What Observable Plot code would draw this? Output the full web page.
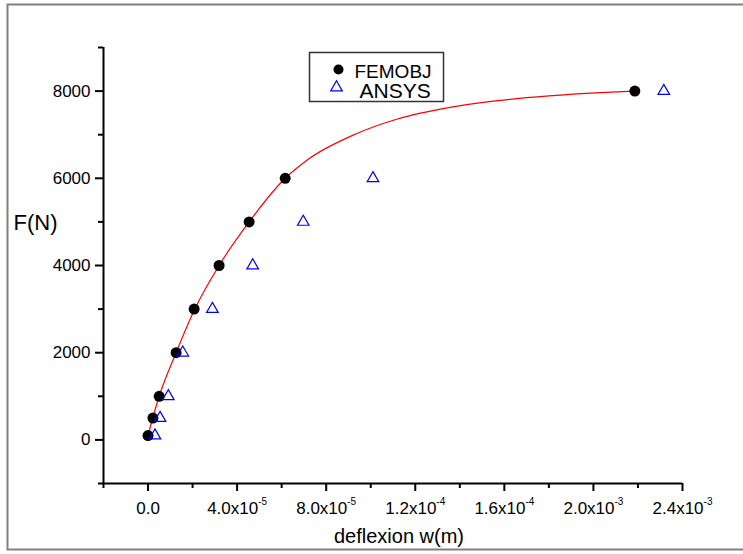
<!DOCTYPE html>
<html><head><meta charset="utf-8">
<script src="https://cdn.jsdelivr.net/npm/d3@7"></script>
<script src="https://cdn.jsdelivr.net/npm/@observablehq/plot@0.6"></script>
<style>body{margin:0;background:#fff}</style>
</head><body><div id="chart"></div>
<script>
const forces = [100, 500, 1000, 2000, 3000, 4000, 5000, 6000, 8000];
const femobjW = [0, 2.2e-6, 5.0e-6, 1.26e-5, 2.07e-5, 3.19e-5, 4.54e-5, 6.16e-5, 2.186e-4];
const ansysW = [3.1e-6, 5.4e-6, 9.1e-6, 1.56e-5, 2.89e-5, 4.70e-5, 6.97e-5, 1.01e-4, 2.316e-4];
const curveW = [0, 2.2e-6, 5.0e-6, 1.26e-5, 2.1e-5, 3.19e-5, 4.54e-5, 6.16e-5, 7.15e-5, 9.3e-5, 1.12e-4, 1.35e-4, 1.57e-4, 1.8e-4, 2.03e-4, 2.186e-4];
const curveF = [100, 520, 1000, 2000, 3000, 4000, 5000, 6000, 6420, 7010, 7360, 7620, 7780, 7890, 7965, 8000];
const xTicks = [0, 4e-5, 8e-5, 1.2e-4, 1.6e-4, 2.0e-4, 2.4e-4];
const xTickLabels = ["0.0", "4.0x10^-5", "8.0x10^-5", "1.2x10^-4", "1.6x10^-4", "2.0x10^-3", "2.4x10^-3"];
const xMinorTicks = [-2e-5, 2e-5, 6e-5, 1e-4, 1.4e-4, 1.8e-4, 2.2e-4];
const yTicks = [0, 2000, 4000, 6000, 8000];
const yMinorTicks = [-1000, 1000, 3000, 5000, 7000, 9000];
const seriesNames = ["FEMOBJ", "ANSYS"];
const xTitle = "deflexion w(m)";
const yTitle = "F(N)";

const femobj = forces.map((F, i) => ({w: femobjW[i], F}));
const ansys = forces.map((F, i) => ({w: ansysW[i], F}));
const curve = curveW.map((w, i) => ({w, F: curveF[i]}));

const plot = Plot.plot({
  width: 743, height: 554,
  marginLeft: 103, marginRight: 61, marginTop: 47, marginBottom: 71,
  style: {fontFamily: '"Liberation Sans", Arial, sans-serif', background: "white", color: "black"},
  x: {domain: [-2e-5, 2.4e-4], label: null},
  y: {domain: [-1000, 9000], label: null},
  marks: [
    Plot.frame({insetLeft: -96, insetTop: -43, insetBottom: -66, insetRight: -70, stroke: "#808080", strokeWidth: 2}),
    Plot.ruleY([-1000], {stroke: "black", strokeWidth: 2}),
    Plot.ruleX([-2e-5], {stroke: "black", strokeWidth: 2}),
    Plot.axisX({ticks: xMinorTicks, tickSize: 5, tickFormat: () => "", strokeWidth: 2, label: null}),
    Plot.axisX({ticks: xTicks, tickSize: 8, tickPadding: 10, fontSize: 17, strokeWidth: 2, label: null,
      tickFormat: d => xTickLabels[xTicks.indexOf(d)]}),
    Plot.axisY({ticks: yMinorTicks, tickSize: 5, tickFormat: () => "", strokeWidth: 2, label: null}),
    Plot.axisY({ticks: yTicks, tickSize: 8, tickPadding: 5, fontSize: 17, strokeWidth: 2, label: null,
      tickFormat: d => String(d)}),
    Plot.line(curve, {x: "w", y: "F", stroke: "red", strokeWidth: 1.2, curve: "monotone-x"}),
    Plot.dot(femobj, {x: "w", y: "F", r: 5.5, fill: "black"}),
    Plot.dot(ansys, {x: "w", y: "F", symbol: "triangle", r: 4.3, stroke: "blue", fill: "none", strokeWidth: 1.2}),
    // legend
    Plot.frame({insetLeft: 206, insetTop: 5, insetRight: 239, insetBottom: 382, stroke: "#333", strokeWidth: 1.5}),
    Plot.dot([seriesNames[0]], {frameAnchor: "top-left", dx: 235, dy: 22, r: 5, fill: "black"}),
    Plot.dot([seriesNames[1]], {frameAnchor: "top-left", dx: 233, dy: 40, symbol: "triangle", r: 4.3, stroke: "blue", fill: "none", strokeWidth: 1.2}),
    Plot.text([seriesNames[0]], {text: d => d, frameAnchor: "top-left", dx: 251, dy: 30, textAnchor: "start", lineAnchor: "bottom", fontSize: 19}),
    Plot.text([seriesNames[1]], {text: d => d, frameAnchor: "top-left", dx: 256, dy: 50, textAnchor: "start", lineAnchor: "bottom", fontSize: 21}),
    // axis titles
    Plot.text([xTitle], {text: d => d, frameAnchor: "bottom", dx: 6, dy: 59, lineAnchor: "bottom", fontSize: 20}),
    Plot.text([yTitle], {text: d => d, frameAnchor: "left", dx: -90, dy: -43, textAnchor: "start", lineAnchor: "middle", fontSize: 22})
  ]
});

d3.select(plot).selectAll('g[aria-label="x-axis tick label"] text').each(function () {
  const t = this.textContent;
  if (!t.includes("^")) return;
  const [base, exp] = t.split("^");
  const sel = d3.select(this);
  sel.text(base);
  sel.append("tspan").attr("dy", -9).attr("font-size", "10px").text(exp);
});

document.getElementById("chart").appendChild(plot);
</script>
</body></html>
